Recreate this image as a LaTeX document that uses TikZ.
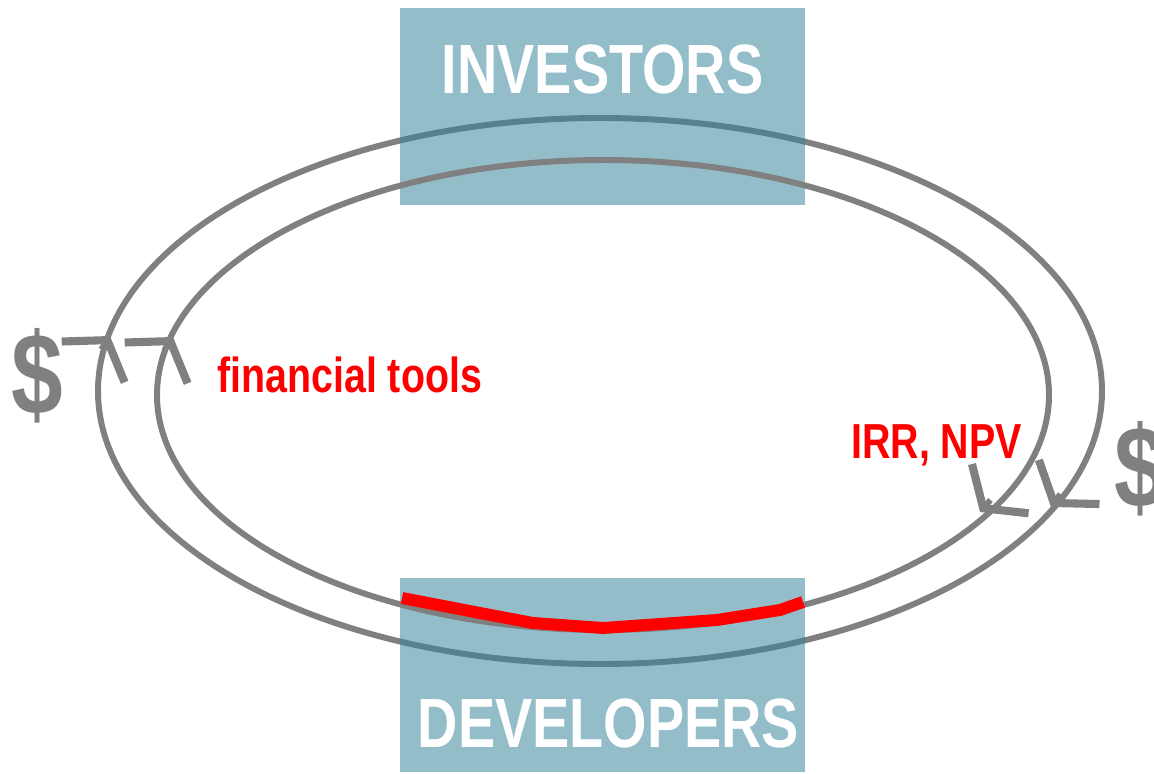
\documentclass[tikz,border=0pt]{standalone}
\usepackage{fontspec}
\newfontfamily\narrowsans[FakeStretch=0.8]{Liberation Sans}
\usetikzlibrary{arrows.meta,positioning,calc}
\definecolor{boxblue}{HTML}{93BDC9}
\definecolor{loopgray}{HTML}{808080}
\definecolor{loopdark}{HTML}{558290}
\tikzset{loop/.style={draw=loopgray, line width=3.4pt},
  flow/.style={loop, -{Straight Barb[length=0.52cm, width=1.5cm, line width=4.6pt]}},
  partybox/.style={fill=boxblue, inner sep=0pt, minimum width=8.1cm},
  partyname/.style={text=white, anchor=base, inner sep=0pt, font={\narrowsans\bfseries\fontsize{39.7}{40}\selectfont}},
  toolname/.style={text=red, anchor=base west, inner sep=0pt, font={\narrowsans\bfseries\fontsize{28}{28}\selectfont}},
  money/.style={text=loopgray, anchor=base west, inner sep=0pt, font={\narrowsans\bfseries\fontsize{66}{66}\selectfont}}}

\begin{document}
\begin{tikzpicture}[x=0.02cm, y=-0.02cm]
    \useasboundingbox (0,0) rectangle (1154,774);

    % outer loop, runs under the boxes
    \draw[loop] (600,391) ellipse [x radius=502, y radius=273];

    \node[partybox, minimum height=3.94cm] (invbox) at (602.5,106.5) {};
    \node[partybox, minimum height=3.88cm] (devbox) at (602.5,675) {};
    \begin{scope}
        \clip (invbox.south west) rectangle (invbox.north east)
              (devbox.south west) rectangle (devbox.north east);
        \draw[loop, draw=loopdark] (600,391) ellipse [x radius=502, y radius=273];
    \end{scope}

    % inner loop, over the boxes
    \draw[loop] (603,395) ellipse [x radius=446, y radius=235];

    % arrow heads (clockwise)
    \coordinate (tipLo) at (110,336);
    \coordinate (tipLi) at (173,337);
    \coordinate (tipRo) at (1051,507);
    \coordinate (tipRi) at (980,512);
    \draw[flow] ($(tipLo)+(123:16)$) -- (tipLo);
    \draw[flow] ($(tipLi)+(123:16)$) -- (tipLi);
    \draw[flow] ($(tipRo)+(-54:16)$) -- (tipRo);
    \draw[flow] ($(tipRi)+(-49:16)$) -- (tipRi);

    \draw[red, line width=6.8pt] (402,598) -- (480,613) -- (533,623) -- (603,628)
        -- (717,620) -- (780,610) -- (803,602);

    \node[partyname] (investors) at (602.5,93) {INVESTORS};
    \node[partyname] (developers) at (608.5,747) {DEVELOPERS};

    \node[toolname] (tools) at (217,392) {financial tools};
    \node[toolname] (measures) at (851,458) {IRR, NPV};

    \node[money] (dollarL) at (11,414) {\$};
    \node[money] (dollarR) at (1114,507) {\$};
\end{tikzpicture}
\end{document}
